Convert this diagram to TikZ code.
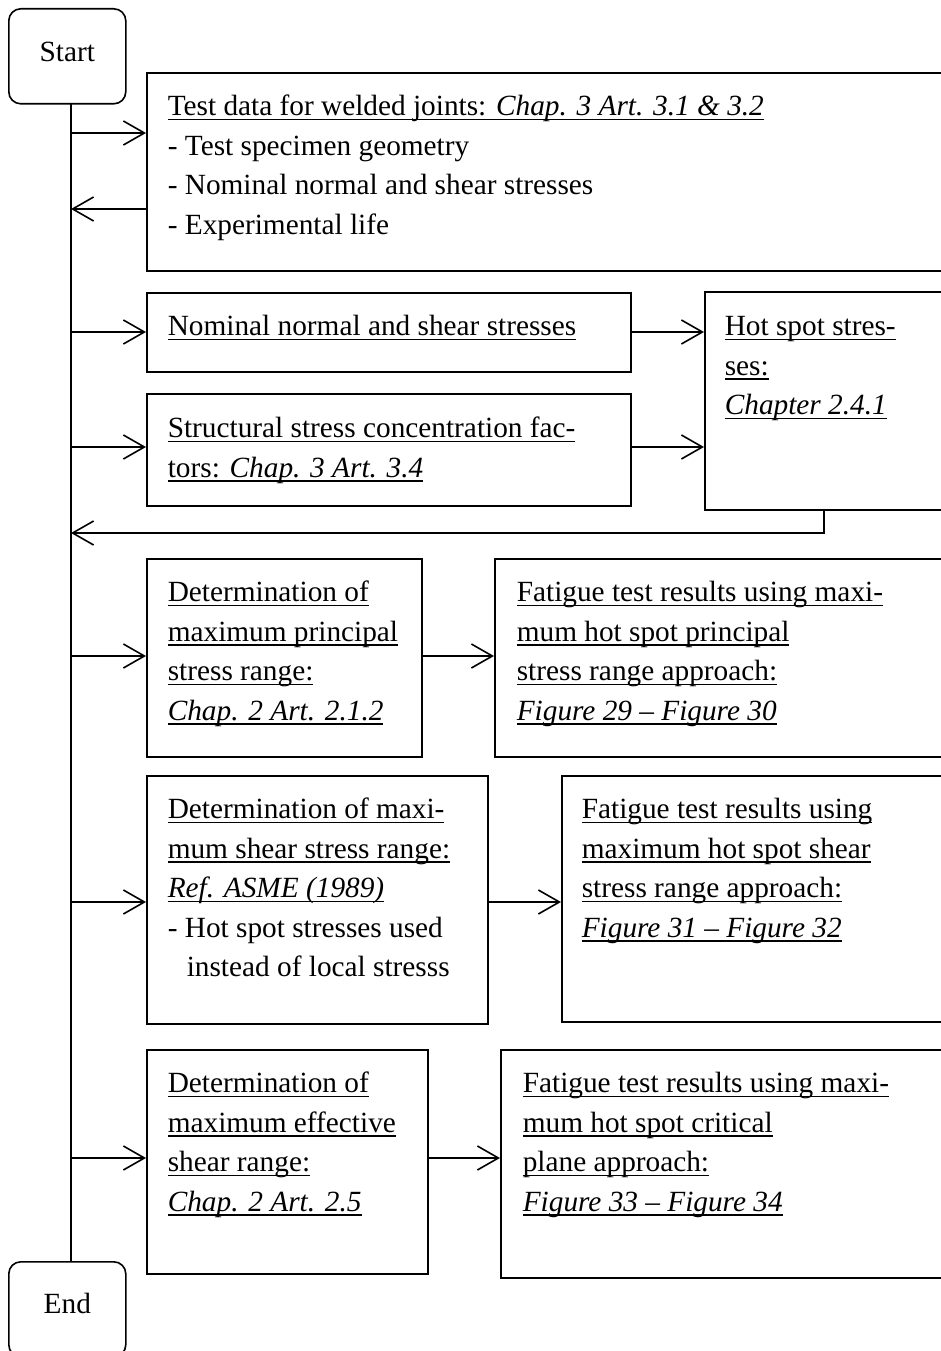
\documentclass[tikz,border=0pt]{standalone}
\usepackage{fontspec}
\setmainfont{Liberation Serif}
\usetikzlibrary{arrows.meta}
\newcommand{\myu}[1]{\setbox0=\hbox{#1}\rlap{\rule[-4.6pt]{\wd0}{1.6pt}}\box0}
\newcommand{\firstln}{\rule{0pt}{24pt}}
\begin{document}
\begin{tikzpicture}[x=1pt,y=-1pt,
  line width=1.6pt,
  box/.style={draw, rectangle, inner sep=0pt, anchor=north west},
  term/.style={draw, rectangle, rounded corners=12pt, inner sep=0pt, anchor=north west,
     minimum width=117pt, minimum height=95pt, font=\fontsize{29.3}{35}\selectfont},
  txt/.style={anchor=north west, inner sep=0pt, align=left,
     font=\fontsize{29.3}{39.4}\selectfont},
  arr/.style={-{Straight Barb[length=21pt,width=24pt]}}]
\useasboundingbox (0,0) rectangle (941,1351);
\fill[white] (0,0) rectangle (941,1351);
\clip (0,0) rectangle (941,1351);

% terminals
\node[term, text height=19pt, text depth=8pt] (start) at (8,8) {Start};
\node[term, text height=19pt, text depth=10pt] (end) at (8,1261) {End};

% boxes
\node[box, minimum width=814pt, minimum height=198pt] (b1) at (146,72) {};
\node[box, minimum width=484pt, minimum height=79pt]  (b2) at (146,292) {};
\node[box, minimum width=484pt, minimum height=112pt] (b3) at (146,393) {};
\node[box, minimum width=256pt, minimum height=218pt] (hs) at (704,291) {};
\node[box, minimum width=275pt, minimum height=198pt] (b4) at (146,558) {};
\node[box, minimum width=466pt, minimum height=198pt] (b5) at (494,558) {};
\node[box, minimum width=341pt, minimum height=248pt] (b6) at (146,775) {};
\node[box, minimum width=399pt, minimum height=246pt] (b7) at (561,775) {};
\node[box, minimum width=281pt, minimum height=224pt] (b8) at (146,1049) {};
\node[box, minimum width=460pt, minimum height=228pt] (b9) at (500,1049) {};

% texts
\node[txt] (t1) at (167,91) {\firstln\myu{Test data for welded joints: \textit{Chap. 3 Art. 3.1 \& 3.2}}\\
  - Test specimen geometry\\
  - Nominal normal and shear stresses\\
  - Experimental life};
\node[txt] (t2) at (167,311) {\firstln\myu{Nominal normal and shear stresses}};
\node[txt] (t3) at (167,413) {\firstln\myu{Structural stress concentration fac-}\\
  \myu{tors: \textit{Chap. 3 Art. 3.4}}};
\node[txt] (ths) at (724,311) {\firstln\myu{Hot spot stres-}\\
  \myu{ses:}\\
  \myu{\textit{Chapter 2.4.1}}};
\node[txt] (t4) at (167,577) {\firstln\myu{Determination of}\\
  \myu{maximum principal}\\
  \myu{stress range:}\\
  \myu{\textit{Chap. 2 Art. 2.1.2}}};
\node[txt] (t5) at (516,577) {\firstln\myu{Fatigue test results using maxi-}\\
  \myu{mum hot spot principal}\\
  \myu{stress range approach:}\\
  \myu{\textit{Figure 29 – Figure 30}}};
\node[txt] (t6) at (167,794) {\firstln\myu{Determination of maxi-}\\
  \myu{mum shear stress range:}\\
  \myu{\textit{Ref. ASME (1989)}}\\
  - Hot spot stresses used\\
  \hspace*{19pt}instead of local stresss};
\node[txt] (t7) at (581,794) {\firstln\myu{Fatigue test results using}\\
  \myu{maximum hot spot shear}\\
  \myu{stress range approach:}\\
  \myu{\textit{Figure 31 – Figure 32}}};
\node[txt] (t8) at (167,1068) {\firstln\myu{Determination of}\\
  \myu{maximum effective}\\
  \myu{shear range:}\\
  \myu{\textit{Chap. 2 Art. 2.5}}};
\node[txt] (t9) at (522,1068) {\firstln\myu{Fatigue test results using maxi-}\\
  \myu{mum hot spot critical}\\
  \myu{plane approach:}\\
  \myu{\textit{Figure 33 – Figure 34}}};

% trunk
\coordinate (trtop) at (71,103);
\coordinate (trbot) at (71,1261);
\draw (trtop) -- (trbot);

% arrow levels
\coordinate (a1) at (71,133);
\coordinate (r1) at (71,209);
\coordinate (a2) at (71,332);
\coordinate (a3) at (71,447);
\coordinate (r2) at (71,533);
\coordinate (r2c) at (824,533);
\coordinate (a4) at (71,656);
\coordinate (a6) at (71,902);
\coordinate (a8) at (71,1158);

\draw[arr] (a1) -- (a1 -| b1.west);
\draw[arr] (r1 -| b1.west) -- (r1);
\draw[arr] (a2) -- (a2 -| b2.west);
\draw[arr] (a2 -| b2.east) -- (a2 -| hs.west);
\draw[arr] (a3) -- (a3 -| b3.west);
\draw[arr] (a3 -| b3.east) -- (a3 -| hs.west);
\draw[arr] (r2c |- hs.south) -- (r2c) -- (r2);
\draw[arr] (a4) -- (a4 -| b4.west);
\draw[arr] (a4 -| b4.east) -- (a4 -| b5.west);
\draw[arr] (a6) -- (a6 -| b6.west);
\draw[arr] (a6 -| b6.east) -- (a6 -| b7.west);
\draw[arr] (a8) -- (a8 -| b8.west);
\draw[arr] (a8 -| b8.east) -- (a8 -| b9.west);
\end{tikzpicture}
\end{document}
